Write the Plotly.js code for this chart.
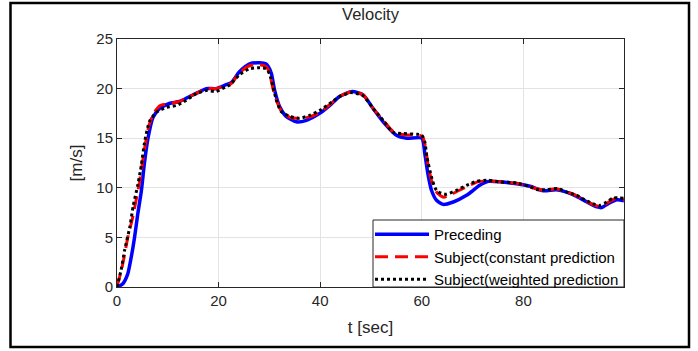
<!DOCTYPE html>
<html>
<head>
<meta charset="utf-8">
<script src="https://cdn.plot.ly/plotly-3.0.1.min.js"></script>
<style>html,body{margin:0;padding:0;background:#fff;}#chart{width:698px;height:351px;}</style>
</head>
<body>
<div id="chart"></div>
<script>
const chartTitle = "Velocity";
const xTitle = "t [sec]";
const yTitle = "[m/s]";
const seriesNames = ["Preceding", "Subject(constant prediction", "Subject(weighted prediction"];
const xTickVals = [0, 20, 40, 60, 80];

const tPreceding = [0, 1.1, 2.1, 2.8, 3.45, 4.1, 4.8, 5.4, 6.1, 7.1, 8.4, 10.3, 12.3, 14.3, 16.3, 17.6, 19.5, 21.5, 22.5, 24.1, 26.1, 28.1, 29.3, 29.8, 30.4, 31.0, 32.0, 33.3, 35.3, 37.3, 39.9, 41.9, 43.8, 46.3, 48.5, 50.4, 52.4, 55.0, 57.0, 60.0, 60.6, 61.2, 61.9, 62.9, 64.2, 66.2, 68.8, 71.4, 73.1, 75.4, 78.7, 81.3, 83.9, 86.5, 88.5, 90.5, 92.5, 94.5, 95.4, 96.7, 98.4, 99.8];
const vPreceding = [0, 0.3, 1.3, 3.0, 5.0, 7.4, 9.7, 12.5, 15.0, 17.1, 18.0, 18.5, 18.7, 19.2, 19.7, 20.0, 20.0, 20.4, 20.6, 21.7, 22.5, 22.6, 22.5, 22.2, 21.5, 19.9, 18.2, 17.2, 16.65, 16.8, 17.5, 18.3, 19.2, 19.7, 19.35, 18.0, 16.65, 15.3, 15.0, 15.0, 13.4, 11.4, 9.75, 8.74, 8.33, 8.57, 9.24, 10.25, 10.65, 10.6, 10.4, 10.15, 9.7, 9.8, 9.57, 9.14, 8.57, 8.07, 8.0, 8.4, 8.8, 8.7];

const tConstant = [0, 0.5, 1.0, 1.5, 2.2, 3.0, 3.7, 4.4, 5.0, 5.6, 6.3, 7.2, 8.5, 10.3, 12.3, 14.3, 16.3, 17.6, 19.5, 21.5, 22.5, 24.1, 26.1, 28.1, 29.4, 30.0, 30.7, 31.4, 32.3, 34.0, 35.5, 37.5, 39.9, 41.9, 43.8, 46.3, 48.5, 50.4, 52.4, 54.5, 56.5, 59.0, 60.1, 60.7, 61.2, 62.0, 63.0, 64.3, 66.0, 68.8, 71.0, 73.1, 75.4, 78.7, 81.3, 83.9, 86.5, 88.5, 90.5, 92.5, 94.3, 95.3, 96.6, 98.0, 99.8];
const vConstant = [0, 1.0, 2.0, 3.3, 5.2, 6.8, 8.6, 10.5, 12.5, 14.5, 16.3, 17.5, 18.3, 18.5, 18.7, 19.2, 19.7, 20.0, 20.0, 20.3, 20.5, 21.6, 22.3, 22.4, 22.2, 21.6, 20.0, 18.8, 17.8, 17.1, 17.0, 17.1, 17.6, 18.4, 19.2, 19.7, 19.35, 18.0, 16.8, 15.6, 15.35, 15.3, 15.2, 14.2, 12.4, 10.6, 9.5, 9.05, 9.4, 10.1, 10.6, 10.7, 10.6, 10.45, 10.1, 9.75, 9.9, 9.6, 9.2, 8.6, 8.2, 8.1, 8.5, 8.9, 8.8];

const tWeighted = [0, 0.8, 1.5, 2.5, 3.2, 4.1, 4.8, 5.4, 6.4, 7.7, 9.7, 11.7, 13.6, 15.6, 17.6, 19.5, 21.5, 22.2, 24.1, 26.1, 28.1, 29.4, 30.0, 30.7, 31.4, 32.3, 34.0, 35.9, 37.9, 39.9, 41.9, 43.8, 46.2, 48.5, 50.4, 52.4, 54.3, 56.3, 59.0, 60.0, 60.6, 61.0, 61.9, 62.6, 63.2, 64.8, 66.8, 68.8, 70.8, 73.1, 75.4, 78.7, 81.3, 82.6, 84.6, 86.8, 88.5, 90.5, 92.5, 94.1, 95.1, 96.4, 97.7, 99.8];
const vWeighted = [0, 1.7, 3.7, 6.0, 8.2, 10.3, 12.3, 14.5, 16.7, 17.6, 18.1, 18.3, 18.8, 19.5, 19.8, 19.7, 20.2, 20.35, 21.4, 22.0, 22.1, 22.0, 21.5, 20.2, 18.8, 17.7, 17.2, 17.0, 17.3, 17.8, 18.5, 19.2, 19.6, 19.25, 18.0, 16.8, 15.6, 15.47, 15.4, 15.3, 14.6, 13.1, 11.1, 10.0, 9.58, 9.34, 9.75, 10.25, 10.66, 10.76, 10.59, 10.49, 10.1, 9.82, 9.82, 9.92, 9.57, 9.24, 8.67, 8.33, 8.23, 8.57, 8.97, 8.95];

const FONT = "Liberation Sans, Arial, Helvetica, sans-serif";
const ML = 117, MR = 74, MT = 39, MB = 64, W = 698, H = 351;
const PW = W - ML - MR, PH = H - MT - MB;
function px2x(px){ return (px - ML) / PW; }
function py2y(py){ return (H - MB - py) / PH; }

const traces = [
  {x: tPreceding, y: vPreceding, name: seriesNames[0], mode: "lines",
   line: {color: "#0000ff", width: 3.5, shape: "spline", smoothing: 0.6}},
  {x: tConstant, y: vConstant, name: seriesNames[1], mode: "lines",
   line: {color: "#ff0000", width: 3, dash: "13px,7px", shape: "spline", smoothing: 0.6}},
  {x: tWeighted, y: vWeighted, name: seriesNames[2], mode: "lines",
   line: {color: "#000000", width: 3, dash: "dot", shape: "spline", smoothing: 0.6}}
];

const axisCommon = {
  showline: true, linecolor: "#262626", linewidth: 1, mirror: "ticks",
  ticks: "inside", ticklen: 5, tickcolor: "#262626", tickwidth: 1,
  showgrid: true, gridcolor: "#e3e3e3", gridwidth: 1, zeroline: false,
  tickfont: {family: FONT, size: 15, color: "#262626"}
};

const layout = {
  width: W, height: H,
  margin: {l: ML, r: MR, t: MT, b: MB},
  paper_bgcolor: "#fff", plot_bgcolor: "#fff",
  font: {family: FONT, color: "#262626"},
  title: {text: chartTitle, font: {family: FONT, size: 16.5, color: "#262626"},
          x: (ML + PW / 2) / W, xanchor: "center", y: 1 - 14 / H, yanchor: "middle", yref: "container"},
  xaxis: Object.assign({}, axisCommon, {range: [0, 99.8], tickvals: xTickVals,
          title: {text: xTitle, font: {family: FONT, size: 17, color: "#262626"}, standoff: 13}}),
  yaxis: Object.assign({}, axisCommon, {range: [0, 25], dtick: 5,
          title: {text: yTitle, font: {family: FONT, size: 17, color: "#262626"}, standoff: 9}}),
  showlegend: true,
  legend: {x: 1, y: py2y(218), xanchor: "right", yanchor: "top", bgcolor: "rgba(0,0,0,0)",
           borderwidth: 0, itemwidth: 54,
           font: {family: FONT, size: 15, color: "#000"}, tracegroupgap: 0},
  shapes: [
    {type: "rect", xref: "paper", yref: "paper",
     x0: px2x(373), x1: 1, y0: 0, y1: py2y(220),
     line: {color: "#262626", width: 1}, fillcolor: "#fff", layer: "above"},
    {type: "rect", xref: "paper", yref: "paper",
     x0: px2x(10.5), x1: px2x(689), y0: py2y(347), y1: py2y(3),
     line: {color: "#000", width: 2.5}, fillcolor: "rgba(0,0,0,0)", layer: "above"}
  ]
};

Plotly.newPlot("chart", traces, layout, {displayModeBar: false, staticPlot: true});
</script>
</body>
</html>
